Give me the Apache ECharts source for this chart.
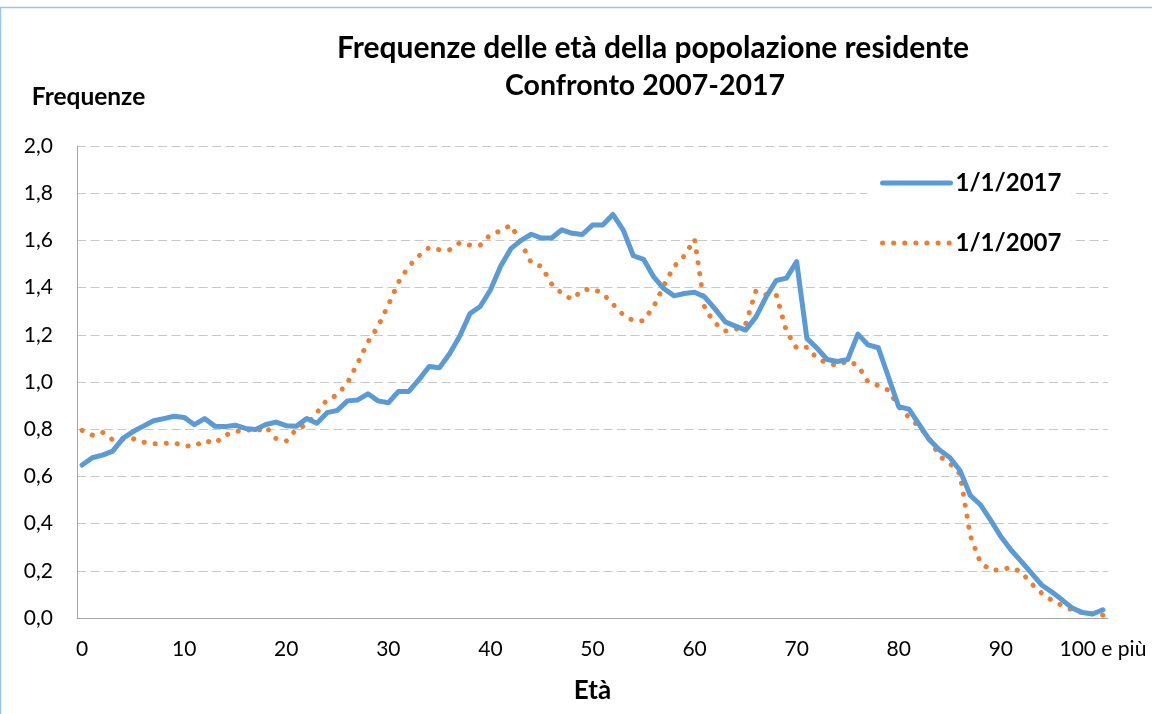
<!DOCTYPE html>
<html>
<head>
<meta charset="utf-8">
<script src="https://cdn.jsdelivr.net/npm/echarts@6/dist/echarts.min.js"></script>
<style>
	html, body { margin: 0; padding: 0; background: #fff; }
	#grafico { width: 1152px; height: 714px; }
</style>
</head>
<body>
<div id="grafico"></div>
<script>
	// età 0..99 + "100 e più"
	var eta = [];
	for (var i = 0; i < 100; i++) eta.push(String(i));
	eta.push('100 e più');

	var freq2017 = [
		0.648, 0.679, 0.69, 0.707, 0.761, 0.79, 0.813, 0.836, 0.845, 0.855,
		0.85, 0.819, 0.845, 0.813, 0.811, 0.817, 0.803, 0.799, 0.82, 0.83,
		0.815, 0.813, 0.845, 0.825, 0.87, 0.88, 0.92, 0.924, 0.95, 0.92,
		0.912, 0.96, 0.96, 1.01, 1.066, 1.06, 1.12, 1.195, 1.29, 1.32,
		1.39, 1.49, 1.565, 1.60, 1.626, 1.61, 1.61, 1.645, 1.63, 1.625,
		1.665, 1.665, 1.71, 1.645, 1.535, 1.52, 1.445, 1.395, 1.365, 1.375,
		1.38, 1.36, 1.31, 1.255, 1.237, 1.22, 1.275, 1.36, 1.43, 1.44,
		1.51, 1.185, 1.143, 1.095, 1.087, 1.095, 1.203, 1.157, 1.145, 1.02,
		0.895, 0.885, 0.82, 0.755, 0.712, 0.68, 0.625, 0.52, 0.48, 0.415,
		0.345, 0.288, 0.24, 0.19, 0.14, 0.11, 0.077, 0.042, 0.023, 0.017,
		0.035
	];

	var freq2007 = [
		0.795, 0.775, 0.787, 0.755, 0.757, 0.76, 0.745, 0.738, 0.74, 0.742,
		0.73, 0.728, 0.752, 0.74, 0.775, 0.788, 0.80, 0.79, 0.81, 0.76,
		0.75, 0.80, 0.82, 0.87, 0.925, 0.945, 0.997, 1.08, 1.17, 1.236,
		1.327, 1.423, 1.49, 1.535, 1.57, 1.56, 1.56, 1.59, 1.58, 1.58,
		1.625, 1.64, 1.665, 1.59, 1.505, 1.49, 1.415, 1.375, 1.35, 1.39,
		1.395, 1.375, 1.33, 1.285, 1.26, 1.26, 1.32, 1.41, 1.49, 1.535,
		1.605, 1.31, 1.25, 1.216, 1.222, 1.245, 1.385, 1.37, 1.37, 1.215,
		1.143, 1.147, 1.10, 1.08, 1.07, 1.09, 1.07, 1.0, 0.985, 0.965,
		0.895, 0.85, 0.81, 0.76, 0.685, 0.655, 0.61, 0.35, 0.235, 0.203,
		0.203, 0.215, 0.195, 0.145, 0.105, 0.075, 0.053, 0.035, 0.022, 0.018,
		0.012
	];

	var serieNomi = ['1/1/2017', '1/1/2007'];
	var titolo1 = 'Frequenze delle età della popolazione residente';
	var titolo2 = 'Confronto 2007-2017';

	var font = 'Lato, "Open Sans", sans-serif';
	var titoloStile = function (size) {
		return {
			fontFamily: font,
			fontSize: size,
			fontWeight: 'bold',
			color: '#000',
			lineHeight: 37
		};
	};

	var myChart = echarts.init(document.getElementById('grafico'));
	myChart.setOption({
		backgroundColor: '#fff',
		animation: false,
		textStyle: { fontFamily: font },
		title: [{
			text: titolo1,
			left: 648,
			top: 25,
			textAlign: 'center',
			textStyle: titoloStile(30)
		}, {
			text: titolo2,
			left: 640,
			top: 62,
			textAlign: 'center',
			textStyle: titoloStile(28.5)
		}],
		graphic: [{
			type: 'rect',
			silent: true,
			shape: { x: 0.5, y: 7.5, width: 1300, height: 900 },
			style: { fill: 'none', stroke: '#9dc3e6', lineWidth: 1.5 }
		}],
		grid: {
			left: 77,
			right: 44,
			top: 146,
			bottom: 96
		},
		legend: {
			orient: 'vertical',
			left: 867,
			top: 157,
			padding: [14, 10, 14, 13],
			backgroundColor: '#fff',
			itemWidth: 68,
			itemHeight: 20,
			itemGap: 36,
			data: serieNomi,
			lineStyle: { width: 5 },
			itemStyle: { opacity: 0 },
			textStyle: {
				fontFamily: font,
				fontSize: 24,
				fontWeight: 'bold',
				color: '#000'
			}
		},
		xAxis: {
			type: 'category',
			data: eta,
			boundaryGap: true,
			name: 'Età',
			nameLocation: 'middle',
			nameGap: 60,
			nameTextStyle: {
				fontFamily: font,
				fontSize: 26,
				fontWeight: 'bold',
				color: '#000'
			},
			axisLine: { lineStyle: { color: '#a6a6a6', width: 1 } },
			axisTick: { show: false },
			axisLabel: {
				interval: 9,
				margin: 21,
				fontFamily: font,
				fontSize: 21,
				color: '#000'
			},
			splitLine: { show: false }
		},
		yAxis: {
			type: 'value',
			min: 0,
			max: 2,
			interval: 0.2,
			name: 'Frequenze',
			nameLocation: 'end',
			nameGap: 36,
			nameTextStyle: {
				fontFamily: font,
				fontSize: 24.5,
				fontWeight: 'bold',
				color: '#000',
				padding: [0, 0, 0, 23]
			},
			axisLine: { show: true, lineStyle: { color: '#a6a6a6', width: 1 } },
			axisTick: { show: false },
			axisLabel: {
				margin: 24,
				fontFamily: font,
				fontSize: 21,
				color: '#000',
				formatter: function (v) {
					return v.toFixed(1).replace('.', ',');
				}
			},
			splitLine: {
				lineStyle: {
					color: '#c8c8c8',
					width: 1.2,
					type: [9, 4.5]
				}
			}
		},
		series: [{
			name: serieNomi[0],
			type: 'line',
			data: freq2017,
			symbol: 'none',
			z: 3,
			lineStyle: {
				color: '#5b9bd5',
				width: 5,
				cap: 'round',
				join: 'round'
			},
			itemStyle: { color: '#5b9bd5' }
		}, {
			name: serieNomi[1],
			type: 'line',
			data: freq2007,
			symbol: 'none',
			z: 2,
			lineStyle: {
				color: '#ed7d31',
				width: 5,
				type: [0.1, 11],
				cap: 'round',
				join: 'round'
			},
			itemStyle: { color: '#ed7d31' }
		}]
	});
</script>
</body>
</html>
